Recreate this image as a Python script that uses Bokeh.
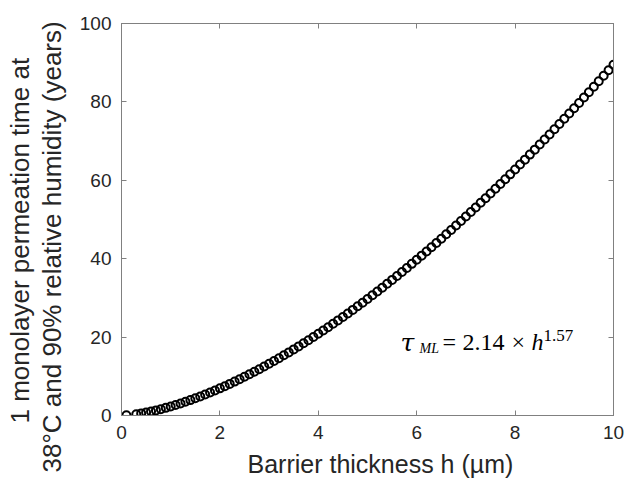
from bokeh.plotting import figure
from bokeh.layouts import row
from bokeh.models import Range1d, FixedTicker, LinearAxis, Label, Title
from bokeh.embed import file_html
from bokeh.resources import INLINE

# ---- data ----
thickness_um = [0.1, 0.3, 0.4, 0.5, 0.6, 0.7, 0.8, 0.9, 1.0,
                1.1, 1.2, 1.3, 1.4, 1.5, 1.6, 1.7, 1.8, 1.9, 2.0,
                2.1, 2.2, 2.3, 2.4, 2.5, 2.6, 2.7, 2.8, 2.9, 3.0,
                3.1, 3.2, 3.3, 3.4, 3.5, 3.6, 3.7, 3.8, 3.9, 4.0,
                4.1, 4.2, 4.3, 4.4, 4.5, 4.6, 4.7, 4.8, 4.9, 5.0,
                5.1, 5.2, 5.3, 5.4, 5.5, 5.6, 5.7, 5.8, 5.9, 6.0,
                6.1, 6.2, 6.3, 6.4, 6.5, 6.6, 6.7, 6.8, 6.9, 7.0,
                7.1, 7.2, 7.3, 7.4, 7.5, 7.6, 7.7, 7.8, 7.9, 8.0,
                8.1, 8.2, 8.3, 8.4, 8.5, 8.6, 8.7, 8.8, 8.9, 9.0,
                9.1, 9.2, 9.3, 9.4, 9.5, 9.6, 9.7, 9.8, 9.9, 10.0]

permeation_years = [0.06, 0.34, 0.54, 0.76, 1.02, 1.30, 1.61, 1.95, 2.30,
                    2.68, 3.07, 3.49, 3.93, 4.38, 4.86, 5.35, 5.86, 6.38, 6.92,
                    7.48, 8.06, 8.65, 9.25, 9.87, 10.51, 11.16, 11.82, 12.50, 13.19,
                    13.90, 14.62, 15.35, 16.10, 16.86, 17.63, 18.41, 19.21, 20.02, 20.84,
                    21.68, 22.53, 23.39, 24.26, 25.14, 26.04, 26.94, 27.86, 28.78, 29.72,
                    30.67, 31.64, 32.61, 33.59, 34.59, 35.60, 36.61, 37.64, 38.68, 39.72,
                    40.78, 41.84, 42.92, 44.01, 45.11, 46.22, 47.33, 48.46, 49.60, 50.75,
                    51.91, 53.08, 54.26, 55.44, 56.64, 57.84, 59.05, 60.28, 61.52, 62.75,
                    64.01, 65.27, 66.55, 67.82, 69.12, 70.41, 71.70, 73.03, 74.36, 75.68,
                    77.03, 78.37, 79.73, 81.10, 82.48, 83.87, 85.25, 86.66, 88.07, 89.49]

x_ticks = [0, 2, 4, 6, 8, 10]
y_ticks = [0, 20, 40, 60, 80, 100]

x_title = "Barrier thickness h (\u00b5m)"
y_title_line1 = "1 monolayer permeation time at"
y_title_line2 = "38\u00b0C and 90% relative humidity (years)"

BOX = "#808080"
TXT = "#262626"
SANS = "Liberation Sans"
SERIF = "Liberation Serif"

PAGE_H = 487
TITLE_W = 70          # narrow strip holding the two-line y-axis title
MAIN_W = 628 - TITLE_W
BORDER_T, BORDER_B = 23, 72

# ---------- y-axis title strip (titles are laid out in its left panel) ----------
t = figure(width=TITLE_W, height=PAGE_H,
           x_range=Range1d(0, 1), y_range=Range1d(0, 1),
           output_backend="svg", toolbar_location=None,
           x_axis_location=None, y_axis_location=None,
           min_border_left=66, min_border_right=0,
           min_border_top=BORDER_T, min_border_bottom=BORDER_B)
t.grid.visible = False
t.outline_line_color = None
t.background_fill_color = "white"
t.border_fill_color = "white"
t.add_layout(Title(text=y_title_line2, align="left", offset=-57, standoff=0,
                   vertical_align="bottom",
                   text_font=SANS, text_font_size="26px", text_font_style="normal",
                   text_color=TXT), "left")
t.add_layout(Title(text=y_title_line1, align="left", offset=-8, standoff=0,
                   vertical_align="bottom",
                   text_font=SANS, text_font_size="26px", text_font_style="normal",
                   text_color=TXT), "left")

# ---------- main plot ----------
p = figure(width=MAIN_W, height=PAGE_H,
           x_range=Range1d(0, 10), y_range=Range1d(0, 100),
           output_backend="svg", toolbar_location=None,
           min_border_left=121 - TITLE_W, min_border_right=15,
           min_border_top=BORDER_T, min_border_bottom=BORDER_B)

p.xgrid.visible = False
p.ygrid.visible = False
p.outline_line_color = BOX
p.background_fill_color = "white"
p.border_fill_color = "white"


def style_axis(ax, ticks, labels=True):
    ax.ticker = FixedTicker(ticks=ticks)
    ax.major_tick_in = 5
    ax.major_tick_out = 0
    ax.minor_tick_line_color = None
    ax.axis_line_color = BOX
    ax.major_tick_line_color = BOX
    ax.major_label_text_font = SANS
    ax.major_label_text_color = TXT
    if labels:
        ax.major_label_text_font_size = "19px"
        ax.major_label_standoff = 10
    else:
        ax.major_label_overrides = {tk: "" for tk in ticks}
        ax.major_label_text_font_size = "1px"
        ax.major_label_standoff = 0


style_axis(p.xaxis[0], x_ticks)
style_axis(p.yaxis[0], y_ticks)
top = LinearAxis()
right = LinearAxis()
style_axis(top, x_ticks, labels=False)
style_axis(right, y_ticks, labels=False)
p.add_layout(top, "above")
p.add_layout(right, "right")

p.scatter(thickness_um, permeation_years, marker="circle", size=8,
          fill_color=None, line_color="black", line_width=2)

# x-axis title
p.add_layout(Title(text=x_title, align="left", offset=126, standoff=13,
                   text_font=SANS, text_font_size="25px", text_font_style="normal",
                   text_color=TXT), "below")

# fitted-law annotation: tau_ML = 2.14 x h^1.57
ax0, ay0 = 5.67, 18.7
pieces = [
    ("\u03c4", 0, 0, "DejaVu Serif", "25px", "italic"),
    ("ML", 19, -6, SERIF, "14px", "italic"),
    ("=", 42, 0, SERIF, "24px", "normal"),
    ("2.14", 62, 0, SERIF, "24px", "normal"),
    ("\u00d7", 111, 0, SERIF, "24px", "normal"),
    ("h", 131, 0, SERIF, "24px", "italic"),
    ("1.57", 143, 7, SERIF, "17px", "normal"),
]
for txt, dx, dy, fnt, fs, st in pieces:
    p.add_layout(Label(x=ax0, y=ay0, x_offset=dx, y_offset=dy, text=txt,
                       text_font=fnt, text_font_size=fs, text_font_style=st,
                       text_color="black", text_align="left",
                       text_baseline="alphabetic"))

layout = row(t, p)
open("out.html", "w").write(file_html(layout, INLINE))
